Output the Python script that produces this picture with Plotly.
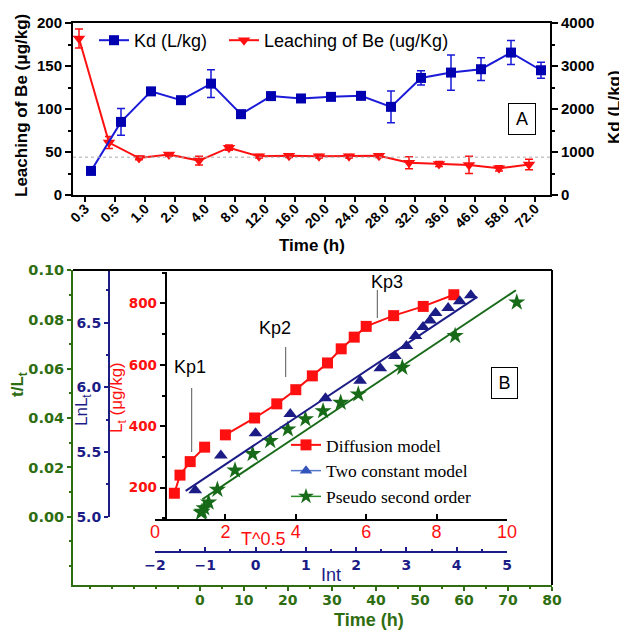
import plotly.graph_objects as go

# page body has an 8px margin: map reference pixel coordinates accordingly
OFF = 8
W, H = 627 - OFF, 630 - OFF
def px(x): return (x - OFF) / W
def py(y): return 1 - (y - OFF) / H

# ---------------- Panel A data ----------------
time_labels = ["0.3", "0.5", "1.0", "2.0", "4.0", "8.0", "12.0", "16.0", "20.0",
               "24.0", "28.0", "32.0", "36.0", "46.0", "58.0", "72.0"]
leach = [182, 61, 43, 47, 40, 55, 45, 45.5, 45, 45, 45.5, 37.5, 36, 35, 31, 35.5]
leach_err = [11, 7, 2, 2, 5, 3, 2, 2, 2, 2, 2, 7, 3, 10, 3, 6]
kd = [560, 1700, 2410, 2205, 2590, 1880, 2300, 2245, 2282, 2306, 2050, 2723, 2847, 2925, 3312, 2901]
kd_err = [40, 310, 60, 60, 325, 60, 60, 50, 50, 50, 370, 165, 410, 265, 280, 185]
leach_mean = 44

# ---------------- Panel B data ----------------
sqrt_t = [0.55, 0.71, 1.0, 1.41, 2.0, 2.83, 3.46, 4.0, 4.47, 4.9, 5.29, 5.66, 6.0, 6.78, 7.62, 8.49]
lt = [182, 241, 285, 332, 372, 427, 473, 519, 564, 606, 652, 690, 725, 760, 790, 828]
ln_t = [-1.2, -0.69, 0.0, 0.69, 1.39, 2.08, 2.48, 2.77, 3.0, 3.18, 3.33, 3.47, 3.58, 3.83, 4.06, 4.28]
ln_lt = [5.205, 5.474, 5.645, 5.794, 5.917, 6.051, 6.148, 6.243, 6.32, 6.397, 6.467, 6.518, 6.576, 6.615, 6.667, 6.713]
time_h = [0.3, 0.5, 1, 2, 4, 8, 12, 16, 20, 24, 28, 32, 36, 46, 58, 72]
t_over_lt = [0.0017, 0.0021, 0.0035, 0.0058, 0.0110, 0.0188, 0.0255, 0.0308, 0.0355,
             0.0396, 0.0429, 0.0463, 0.0497, 0.0605, 0.0734, 0.0870]
fit_int = [-1.39, 4.41]
fit_lnlt = [5.20, 6.70]
fit_time = [0.6, 71.8]
fit_tlt = [0.0071, 0.0919]
kp1_n = 4  # points in the first diffusion segment

RED = "#ff1010"
BLUE_L = "#1a1ad8"
BLUE_M = "#0000b0"
NAVY = "#1c1c86"
GREEN_AX = "#2f6d12"
GREEN = "#176a17"
ARIAL = "Liberation Sans, Arial"
DJV = "DejaVu Sans"

idx = list(range(len(time_labels)))
fig = go.Figure()

# ---- Panel A traces
fig.add_trace(go.Scatter(
    x=[i + 0.2 for i in idx], y=kd, xaxis="x", yaxis="y2", name="Kd (L/kg)",
    mode="lines+markers", line=dict(color=BLUE_L, width=2),
    marker=dict(symbol="square", size=10, color=BLUE_M),
    error_y=dict(type="data", array=kd_err, color=BLUE_L, thickness=1.5, width=4),
    legend="legend"))
fig.add_trace(go.Scatter(
    x=[i - 0.2 for i in idx], y=leach, xaxis="x", yaxis="y", name="Leaching of Be (ug/Kg)",
    mode="lines+markers", line=dict(color=RED, width=2),
    marker=dict(symbol="triangle-down", size=11, color=RED),
    error_y=dict(type="data", array=leach_err, color=RED, thickness=1.5, width=4),
    legend="legend3"))

# ---- Panel B traces
fig.add_trace(go.Scatter(
    x=fit_time, y=fit_tlt, xaxis="x2", yaxis="y3", mode="lines",
    line=dict(color=GREEN, width=2), showlegend=False))
fig.add_trace(go.Scatter(
    x=time_h, y=t_over_lt, xaxis="x2", yaxis="y3", mode="markers",
    marker=dict(symbol="star", size=13, color=GREEN), showlegend=False))
fig.add_trace(go.Scatter(
    x=fit_int, y=fit_lnlt, xaxis="x4", yaxis="y5", mode="lines",
    line=dict(color=NAVY, width=2), showlegend=False))
fig.add_trace(go.Scatter(
    x=ln_t, y=ln_lt, xaxis="x4", yaxis="y5", mode="markers",
    marker=dict(symbol="triangle-up", size=12, color=NAVY), showlegend=False))
fig.add_trace(go.Scatter(
    x=sqrt_t[:kp1_n], y=lt[:kp1_n], xaxis="x3", yaxis="y4", mode="lines+markers",
    line=dict(color=RED, width=2), marker=dict(symbol="square", size=11, color=RED),
    showlegend=False))
fig.add_trace(go.Scatter(
    x=sqrt_t[kp1_n:], y=lt[kp1_n:], xaxis="x3", yaxis="y4", mode="lines+markers",
    line=dict(color=RED, width=2), marker=dict(symbol="square", size=11, color=RED),
    name="Diffusion model", legend="legend2", legendrank=1))
fig.add_trace(go.Scatter(
    x=[None], y=[None], xaxis="x3", yaxis="y4", mode="lines+markers",
    line=dict(color="#5577cc", width=1.5), marker=dict(symbol="triangle-up", size=11, color="#3355bb"),
    name="Two constant model", legend="legend2", legendrank=2))
fig.add_trace(go.Scatter(
    x=[None], y=[None], xaxis="x3", yaxis="y4", mode="lines+markers",
    line=dict(color="#2a8a2a", width=1.5), marker=dict(symbol="star", size=12, color=GREEN),
    name="Pseudo second order", legend="legend2", legendrank=3))

common = dict(showgrid=False, zeroline=False, showline=True)
top_leg = dict(orientation="h", xanchor="left", yanchor="top", y=py(22),
               font=dict(family=ARIAL, size=18, color="black"), bgcolor="rgba(0,0,0,0)", itemwidth=30)

fig.update_layout(
    width=W, height=H, margin=dict(l=0, r=0, t=0, b=0, autoexpand=False),
    paper_bgcolor="white", plot_bgcolor="rgba(0,0,0,0)",
    font=dict(family=ARIAL, color="black"),
    # Panel A axes
    xaxis=dict(domain=[px(73), px(550)], anchor="y", range=[-0.4, 15.5],
               tickvals=idx, ticktext=time_labels, tickangle=-45,
               ticks="outside", ticklen=5, tickwidth=1.5, tickcolor="black",
               ticklabelstandoff=-7,
               linecolor="black", linewidth=2, mirror=True,
               tickfont=dict(family=ARIAL, size=14, color="black", weight="bold"), **common),
    yaxis=dict(domain=[py(195), py(23)], anchor="x", range=[0, 200], dtick=50,
               ticks="outside", ticklen=6, tickwidth=2, tickcolor="black",
               minor=dict(ticks="outside", ticklen=3, dtick=25, tickcolor="black", tickwidth=1.5),
               linecolor="black", linewidth=2,
               tickfont=dict(family=ARIAL, size=15, color="black", weight="bold"), **common),
    yaxis2=dict(overlaying="y", anchor="x", side="right", range=[0, 4000], dtick=1000,
                ticks="outside", ticklen=6, tickwidth=2, tickcolor="black",
                minor=dict(ticks="outside", ticklen=3, dtick=500, tickcolor="black", tickwidth=1.5),
                linecolor="black", linewidth=2,
                tickfont=dict(family=ARIAL, size=15, color="black", weight="bold"), **common),
    # Panel B: green (time, t/Lt)
    xaxis2=dict(domain=[px(73), px(552)], anchor="y3", range=[-28.8, 80], tickvals=list(range(0, 81, 10)),
                ticks="outside", ticklen=4, tickwidth=1.5, tickcolor=GREEN_AX,
                minor=dict(ticks="outside", ticklen=2, dtick=5, tickcolor=GREEN_AX),
                linecolor=GREEN_AX, linewidth=2, ticklabelstandoff=-3,
                tickfont=dict(family=DJV, size=14, color=GREEN_AX, weight="bold"), **common),
    yaxis3=dict(domain=[py(585), py(270)], anchor="x2", range=[-0.0277, 0.1001],
                tickvals=[0, 0.02, 0.04, 0.06, 0.08, 0.10], tickformat=".2f",
                ticks="outside", ticklen=4, tickwidth=1.5, tickcolor=GREEN_AX,
                minor=dict(ticks="outside", ticklen=2, dtick=0.01, tickcolor=GREEN_AX),
                linecolor=GREEN_AX, linewidth=2,
                tickfont=dict(family=DJV, size=14.5, color=GREEN_AX, weight="bold"), **common),
    # red (T^0.5, Lt)
    xaxis3=dict(domain=[px(155), px(507)], anchor="free", position=py(520), range=[0, 10], dtick=2,
                ticks="inside", ticklen=5, tickwidth=1.5, tickcolor="black",
                linecolor="black", linewidth=2, ticklabelstandoff=-5,
                tickfont=dict(family=ARIAL, size=18, color=RED), **common),
    yaxis4=dict(domain=[py(520), py(272)], anchor="free", position=px(165.7), range=[95, 902],
                tickvals=[200, 400, 600, 800],
                ticks="outside", ticklen=5, tickwidth=1.5, tickcolor="black",
                minor=dict(ticks="outside", ticklen=3, dtick=100, tickcolor="black"),
                linecolor="black", linewidth=2,
                tickfont=dict(family=DJV, size=13.5, color=RED, weight="bold"), **common),
    # navy (Int, LnLt)
    xaxis4=dict(domain=[px(155), px(507)], anchor="free", position=py(551.7), range=[-2, 5], dtick=1,
                ticks="inside", ticklen=4, tickwidth=1.5, tickcolor=NAVY,
                minor=dict(ticks="inside", ticklen=2, dtick=0.5, tickcolor=NAVY),
                linecolor=NAVY, linewidth=2,
                tickfont=dict(family=DJV, size=14, color=NAVY, weight="bold"), **common),
    yaxis5=dict(domain=[py(516.7), py(270)], anchor="free", position=px(109), range=[5.0, 6.908],
                tickvals=[5.0, 5.5, 6.0, 6.5], tickformat=".1f",
                ticks="outside", ticklen=4, tickwidth=1.5, tickcolor=NAVY,
                minor=dict(ticks="outside", ticklen=2, dtick=0.25, tickcolor=NAVY),
                linecolor=NAVY, linewidth=2,
                tickfont=dict(family=DJV, size=14, color=NAVY, weight="bold"), **common),
    legend=dict(x=px(94), **top_leg),
    legend3=dict(x=px(224), **top_leg),
    legend2=dict(orientation="v", x=px(286), y=py(427), xanchor="left", yanchor="top",
                 font=dict(family="Liberation Serif, Times New Roman", size=17.5, color="black"),
                 bgcolor="rgba(0,0,0,0)", itemwidth=30, tracegroupgap=0),
)

# Panel A reference line
fig.add_shape(type="line", xref="x domain", yref="y", x0=0, x1=1, y0=leach_mean, y1=leach_mean,
              line=dict(color="#aaaaaa", width=1, dash="dot"))
# Panel B frame top/right
fig.add_shape(type="line", xref="paper", yref="paper", x0=px(73), x1=px(552), y0=py(270), y1=py(270),
              line=dict(color="black", width=2))
fig.add_shape(type="line", xref="paper", yref="paper", x0=px(552), x1=px(552), y0=py(270), y1=py(585),
              line=dict(color="black", width=2))
# Kp markers lines
for (x, y0, y1) in [(191.7, 388, 452), (285.7, 347, 377), (377.3, 290, 318)]:
    fig.add_shape(type="line", xref="paper", yref="paper", x0=px(x), x1=px(x), y0=py(y0), y1=py(y1),
                  line=dict(color="#555555", width=1))

def ann(text, x, y, size, color="black", bold=False, angle=0, family=ARIAL, **kw):
    fig.add_annotation(text=text, x=px(x), y=py(y), xref="paper", yref="paper",
                       showarrow=False, textangle=angle, xanchor="center", yanchor="middle",
                       font=dict(family=family, size=size, color=color, weight="bold" if bold else "normal"), **kw)

ann("Leaching of Be (μg/kg)", 22, 106, 17, bold=True, angle=-90)
ann("Kd (L/kg)", 615, 107, 17, bold=True, angle=-90)
ann("Time (h)", 312, 246, 17, bold=True)
ann("A", 522, 119, 18, bordercolor="black", borderwidth=1, borderpad=3, width=20, height=24)

ann("t/L<sub>t</sub>", 19, 385, 17, color=GREEN_AX, bold=True, angle=-90)
ann("LnL<sub>t</sub>", 83, 410, 17, color=NAVY, angle=-90)
ann("L<sub>t</sub> (μg/kg)", 118, 398, 17, color=RED, angle=-90)
ann("T^0.5", 263, 539, 18, color=RED)
ann("Int", 331, 575, 18, color=NAVY)
ann("Time (h)", 369, 620, 18, color=GREEN_AX, bold=True)
ann("Kp1", 190, 367, 18)
ann("Kp2", 275, 328, 18)
ann("Kp3", 387, 282, 18)
ann("B", 504, 383, 18, bordercolor="black", borderwidth=1, borderpad=3, width=19, height=24)

fig.write_html("out.html")
